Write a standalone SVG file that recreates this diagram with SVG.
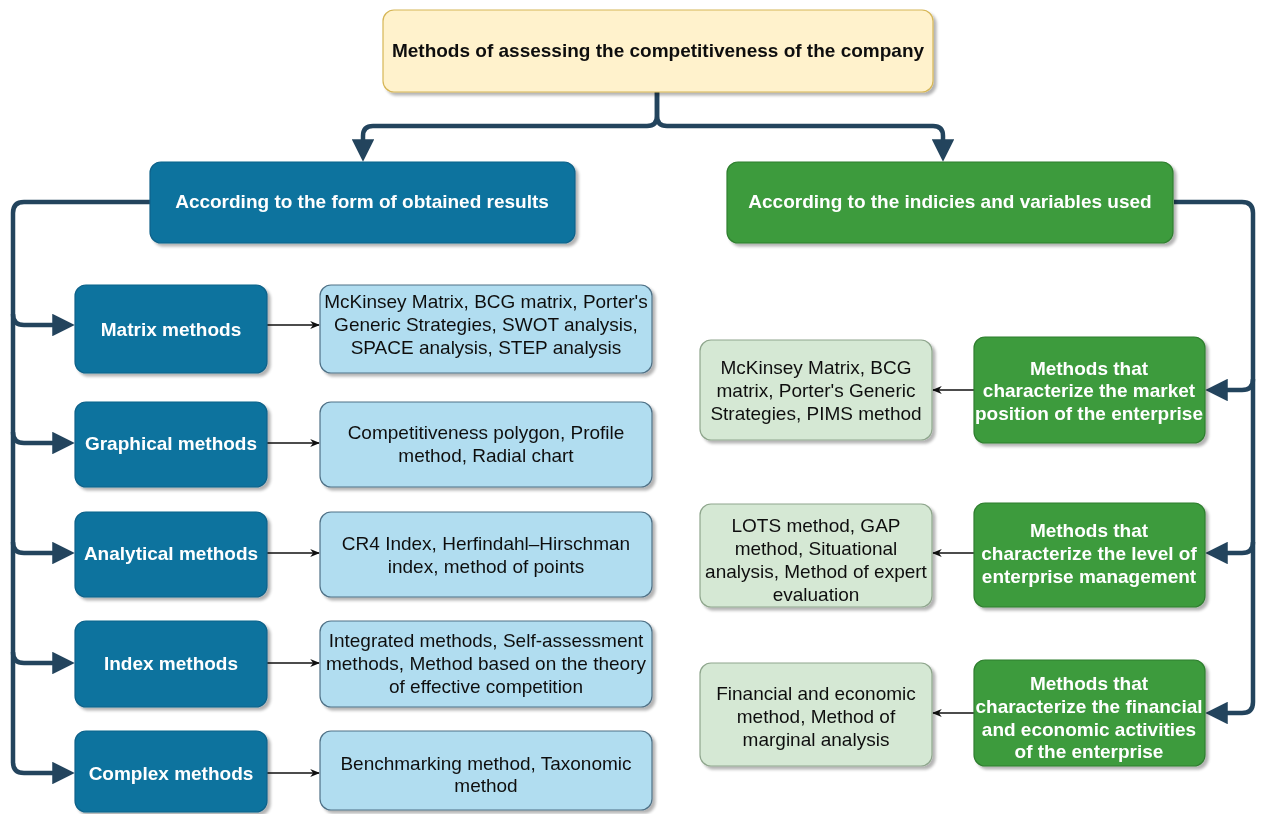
<svg xmlns="http://www.w3.org/2000/svg" width="1261" height="814" viewBox="0 0 1261 814">
  <style>
    text { font-family: "Liberation Sans", Arial, sans-serif; font-size: 19px; text-anchor: middle; dominant-baseline: central; }
    .b { font-weight: bold; }
    .w { fill: #ffffff; }
    .k { fill: #111111; }
    .root { fill: #fff2cc; stroke: #d6b656; stroke-width: 1.2; }
    .blue { fill: #10739e; stroke: #0d628a; stroke-width: 1.2; }
    .green { fill: #3e9b3e; stroke: #2f7f2f; stroke-width: 1.2; }
    .lblue { fill: #b1ddf0; stroke: #4f7186; stroke-width: 1.2; }
    .lgreen { fill: #d5e8d4; stroke: #8fa68d; stroke-width: 1.2; }
    .trunk { fill: none; stroke: #23445d; stroke-width: 4.5; stroke-linejoin: round; }
    .thin { fill: none; stroke: #111111; stroke-width: 1.3; }
  </style>
  <defs>
    <filter id="shadow" x="-10%" y="-10%" width="130%" height="140%">
      <feGaussianBlur in="SourceAlpha" stdDeviation="1.5"/>
      <feOffset dx="2.5" dy="3" result="o"/>
      <feComponentTransfer><feFuncA type="linear" slope="0.3"/></feComponentTransfer>
      <feMerge><feMergeNode/><feMergeNode in="SourceGraphic"/></feMerge>
    </filter>
    <!-- solid head; tip sits 3 units (6.75px) past the path end -->
    <marker id="big" viewBox="0 0 10 10" refX="7" refY="5" markerWidth="5" markerHeight="5" orient="auto" markerUnits="strokeWidth">
      <path d="M0,0 L10,5 L0,10 Z" fill="#23445d"/>
    </marker>
    <marker id="small" viewBox="0 0 10 10" refX="9" refY="5" markerWidth="7.5" markerHeight="7.5" orient="auto" markerUnits="strokeWidth">
      <path d="M0,1 L10,5 L0,9 L3,5 Z" fill="#111111"/>
    </marker>
  </defs>

  <!-- connectors -->
  <g id="connectors">
    <!-- root split -->
    <path class="trunk" d="M657,92 V116 Q657,126 647,126 H373 Q363,126 363,136 V155" marker-end="url(#big)"/>
    <path class="trunk" d="M657,92 V116 Q657,126 667,126 H933 Q943,126 943,136 V155" marker-end="url(#big)"/>
    <!-- left bus -->
    <path class="trunk" d="M150,202 H24 Q13,202 13,213 V762 Q13,773 24,773 H68" marker-end="url(#big)"/>
    <path class="trunk" d="M13,314 Q13,325 24,325 H68" marker-end="url(#big)"/>
    <path class="trunk" d="M13,432 Q13,443 24,443 H68" marker-end="url(#big)"/>
    <path class="trunk" d="M13,542 Q13,553 24,553 H68" marker-end="url(#big)"/>
    <path class="trunk" d="M13,652 Q13,663 24,663 H68" marker-end="url(#big)"/>
    <!-- right bus -->
    <path class="trunk" d="M1174,202 H1242 Q1253,202 1253,213 V702 Q1253,713 1242,713 H1212" marker-end="url(#big)"/>
    <path class="trunk" d="M1253,379 Q1253,390 1242,390 H1212" marker-end="url(#big)"/>
    <path class="trunk" d="M1253,542 Q1253,553 1242,553 H1212" marker-end="url(#big)"/>
    <!-- detail arrows -->
    <path class="thin" d="M267,325 H319" marker-end="url(#small)"/>
    <path class="thin" d="M267,443 H319" marker-end="url(#small)"/>
    <path class="thin" d="M267,553 H319" marker-end="url(#small)"/>
    <path class="thin" d="M267,663 H319" marker-end="url(#small)"/>
    <path class="thin" d="M267,773 H319" marker-end="url(#small)"/>
    <path class="thin" d="M974,390 H933" marker-end="url(#small)"/>
    <path class="thin" d="M974,553 H933" marker-end="url(#small)"/>
    <path class="thin" d="M974,713 H933" marker-end="url(#small)"/>
  </g>

  <g id="root" filter="url(#shadow)">
    <rect class="root" x="383" y="10" width="550" height="82" rx="11"/>
    <text class="b k" x="658" y="50">Methods of assessing the competitiveness of the company</text>
  </g>

  <g id="by-form" filter="url(#shadow)">
    <rect class="blue" x="150" y="162" width="425" height="81" rx="11"/>
    <text class="b w" x="362" y="201">According to the form of obtained results</text>
  </g>
  <g id="by-indices" filter="url(#shadow)">
    <rect class="green" x="727" y="162" width="446" height="81" rx="11"/>
    <text class="b w" x="950" y="201">According to the indicies and variables used</text>
  </g>

  <!-- left column -->
  <g id="matrix" filter="url(#shadow)">
    <rect class="blue" x="75" y="285" width="192" height="88" rx="11"/>
    <text class="b w" x="171" y="329">Matrix methods</text>
  </g>
  <g id="matrix-list" filter="url(#shadow)">
    <rect class="lblue" x="320" y="285" width="332" height="88" rx="11"/>
    <text class="k" x="486" y="301">McKinsey Matrix, BCG matrix, Porter's</text>
    <text class="k" x="486" y="324">Generic Strategies, SWOT analysis,</text>
    <text class="k" x="486" y="347">SPACE analysis, STEP analysis</text>
  </g>

  <g id="graphical" filter="url(#shadow)">
    <rect class="blue" x="75" y="402" width="192" height="85" rx="11"/>
    <text class="b w" x="171" y="443">Graphical methods</text>
  </g>
  <g id="graphical-list" filter="url(#shadow)">
    <rect class="lblue" x="320" y="402" width="332" height="85" rx="11"/>
    <text class="k" x="486" y="432">Competitiveness polygon, Profile</text>
    <text class="k" x="486" y="455">method, Radial chart</text>
  </g>

  <g id="analytical" filter="url(#shadow)">
    <rect class="blue" x="75" y="512" width="192" height="85" rx="11"/>
    <text class="b w" x="171" y="553">Analytical methods</text>
  </g>
  <g id="analytical-list" filter="url(#shadow)">
    <rect class="lblue" x="320" y="512" width="332" height="85" rx="11"/>
    <text class="k" x="486" y="543">CR4 Index, Herfindahl–Hirschman</text>
    <text class="k" x="486" y="566">index, method of points</text>
  </g>

  <g id="index" filter="url(#shadow)">
    <rect class="blue" x="75" y="621" width="192" height="86" rx="11"/>
    <text class="b w" x="171" y="663">Index methods</text>
  </g>
  <g id="index-list" filter="url(#shadow)">
    <rect class="lblue" x="320" y="621" width="332" height="86" rx="11"/>
    <text class="k" x="486" y="640">Integrated methods, Self-assessment</text>
    <text class="k" x="486" y="663">methods, Method based on the theory</text>
    <text class="k" x="486" y="686">of effective competition</text>
  </g>

  <g id="complex" filter="url(#shadow)">
    <rect class="blue" x="75" y="731" width="192" height="81" rx="11"/>
    <text class="b w" x="171" y="773">Complex methods</text>
  </g>
  <g id="complex-list" filter="url(#shadow)">
    <rect class="lblue" x="320" y="731" width="332" height="79" rx="11"/>
    <text class="k" x="486" y="763">Benchmarking method, Taxonomic</text>
    <text class="k" x="486" y="785">method</text>
  </g>

  <!-- right column -->
  <g id="market" filter="url(#shadow)">
    <rect class="green" x="974" y="337" width="231" height="106" rx="11"/>
    <text class="b w" x="1089" y="368">Methods that</text>
    <text class="b w" x="1089" y="390">characterize the market</text>
    <text class="b w" x="1089" y="413">position of the enterprise</text>
  </g>
  <g id="market-list" filter="url(#shadow)">
    <rect class="lgreen" x="700" y="340" width="232" height="100" rx="11"/>
    <text class="k" x="816" y="367">McKinsey Matrix, BCG</text>
    <text class="k" x="816" y="390">matrix, Porter's Generic</text>
    <text class="k" x="816" y="413">Strategies, PIMS method</text>
  </g>

  <g id="management" filter="url(#shadow)">
    <rect class="green" x="974" y="503" width="231" height="104" rx="11"/>
    <text class="b w" x="1089" y="530">Methods that</text>
    <text class="b w" x="1089" y="553">characterize the level of</text>
    <text class="b w" x="1089" y="576">enterprise management</text>
  </g>
  <g id="management-list" filter="url(#shadow)">
    <rect class="lgreen" x="700" y="504" width="232" height="103" rx="11"/>
    <text class="k" x="816" y="525">LOTS method, GAP</text>
    <text class="k" x="816" y="548">method, Situational</text>
    <text class="k" x="816" y="571">analysis, Method of expert</text>
    <text class="k" x="816" y="594">evaluation</text>
  </g>

  <g id="financial" filter="url(#shadow)">
    <rect class="green" x="974" y="660" width="231" height="106" rx="11"/>
    <text class="b w" x="1089" y="683">Methods that</text>
    <text class="b w" x="1089" y="706">characterize the financial</text>
    <text class="b w" x="1089" y="729">and economic activities</text>
    <text class="b w" x="1089" y="751">of the enterprise</text>
  </g>
  <g id="financial-list" filter="url(#shadow)">
    <rect class="lgreen" x="700" y="663" width="232" height="103" rx="11"/>
    <text class="k" x="816" y="693">Financial and economic</text>
    <text class="k" x="816" y="716">method, Method of</text>
    <text class="k" x="816" y="739">marginal analysis</text>
  </g>
</svg>
